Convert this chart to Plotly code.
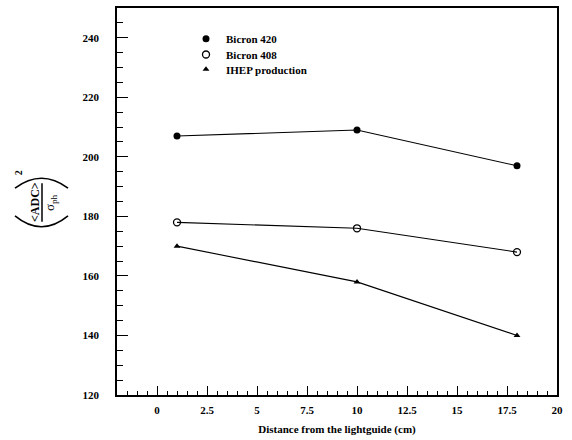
import plotly.graph_objects as go

# Distance from the lightguide (cm)
distance = [1, 10, 18]

# (<ADC>/sigma_ph)^2 for each scintillator sample
bicron_420 = [207, 209, 197]
bicron_408 = [178, 176, 168]
ihep_production = [170, 158, 140]

x_ticks = [0, 2.5, 5, 7.5, 10, 12.5, 15, 17.5, 20]
y_ticks = [120, 140, 160, 180, 200, 220, 240]

FONT = "Liberation Serif"
W, H = 572, 440
ML, MR, MT, MB = 117, 15, 6, 43
PW, PH = W - ML - MR, H - MT - MB


def px(x):
    """page pixel x -> paper fraction"""
    return (x - ML) / PW


def py(y):
    """page pixel y -> paper fraction"""
    return 1 - (y - MT) / PH


series = [
    ("Bicron 420", bicron_420, dict(symbol="circle", size=7, color="black"), "legend", 37),
    ("Bicron 408", bicron_408, dict(symbol="circle-open", size=7, color="black",
                                    line=dict(width=1.3, color="black")), "legend2", 53),
    ("IHEP production", ihep_production, dict(symbol="triangle-up", size=6, color="black"), "legend3", 68),
]

fig = go.Figure()
legend_layout = {}
for name, vals, marker, leg, row_y in series:
    # connecting line, kept out of the legend
    fig.add_trace(go.Scatter(x=distance, y=vals, mode="lines",
                             line=dict(color="black", width=1.1),
                             showlegend=False, hoverinfo="skip"))
    # markers, listed in their own legend row
    fig.add_trace(go.Scatter(x=distance, y=vals, mode="markers", name="<b>%s</b>" % name,
                             marker=marker, legend=leg))
    legend_layout[leg] = dict(x=px(186), y=py(row_y), xanchor="left", yanchor="middle",
                              font=dict(family=FONT, size=11, color="black"),
                              bgcolor="rgba(0,0,0,0)", itemwidth=30)

axis_common = dict(
    showline=True, linecolor="black", linewidth=1.5, mirror=True,
    showgrid=False, zeroline=False, ticks="inside", tickcolor="black",
    tickwidth=1, tickfont=dict(family=FONT, size=11, color="black"),
)

fig.update_xaxes(
    range=[-2, 20], ticklen=9,
    tickvals=x_ticks, ticktext=["<b>%g</b>" % v for v in x_ticks],
    minor=dict(ticks="inside", dtick=0.5, tick0=0, ticklen=4, tickcolor="black", tickwidth=1),
    ticklabelstandoff=4,
    title=dict(text="<b>Distance from the lightguide (cm)</b>",
               font=dict(family=FONT, size=11, color="black"), standoff=10),
    **axis_common,
)
fig.update_yaxes(
    range=[120, 250], ticklen=11,
    tickvals=y_ticks, ticktext=["<b>%d</b>" % v for v in y_ticks],
    minor=dict(ticks="inside", dtick=5, tick0=120, ticklen=6, tickcolor="black", tickwidth=1),
    ticklabelstandoff=14,
    **axis_common,
)

# y-axis label: ( <ADC> / sigma_ph )^2, written rotated
rot = dict(xref="paper", yref="paper", showarrow=False, textangle=-90,
           xanchor="center", yanchor="middle")
fig.add_annotation(x=px(35), y=py(202), text="<b>&lt;ADC&gt;</b>",
                   font=dict(family=FONT, size=12, color="black"), **rot)
fig.add_annotation(x=px(51), y=py(203), text="σ<sub>ph</sub>",
                   font=dict(family=FONT, size=13, color="black"), **rot)
fig.add_annotation(x=px(18), y=py(173), text="<b>2</b>",
                   font=dict(family=FONT, size=10, color="black"), **rot)
# fraction bar
fig.add_shape(type="line", xref="paper", yref="paper",
              x0=px(42), x1=px(42), y0=py(183), y1=py(222),
              line=dict(color="black", width=1.5))
# large brackets around the fraction
for y_end, y_ctrl in [(188, 168), (216, 238)]:
    path = "M %f %f Q %f %f %f %f" % (px(15), py(y_end), px(41.5), py(y_ctrl), px(68), py(y_end))
    fig.add_shape(type="path", xref="paper", yref="paper", path=path,
                  line=dict(color="black", width=1.6))

fig.update_layout(
    width=W, height=H,
    margin=dict(l=ML, r=MR, t=MT, b=MB),
    plot_bgcolor="white", paper_bgcolor="white",
    **legend_layout,
)

fig.write_html("out.html")
